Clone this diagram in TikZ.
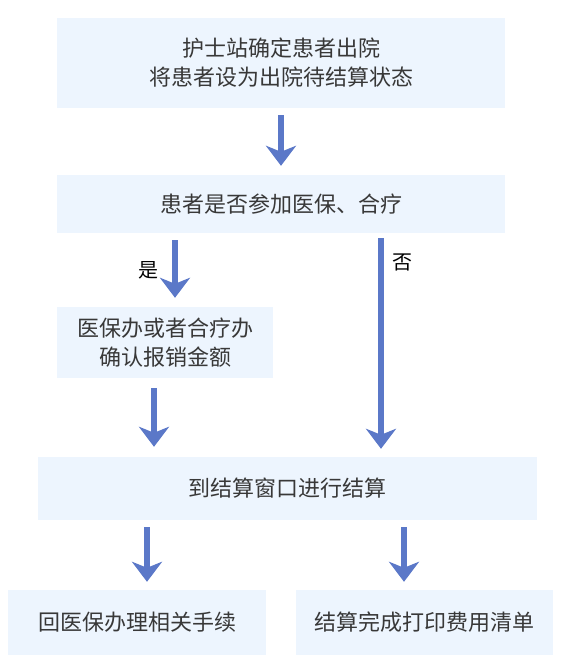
\documentclass[tikz,border=0pt]{standalone}
\usepackage{fontspec}
\newfontfamily\cjk{Noto Sans CJK SC}
\usepackage{tikz}
\usetikzlibrary{positioning,arrows.meta,calc}
\definecolor{boxfill}{HTML}{EDF5FE}
\definecolor{flowblue}{HTML}{5B78C8}
\definecolor{txtgray}{HTML}{383838}

\begin{document}
\begin{tikzpicture}[x=1pt, y=-1pt, >={Stealth[length=20pt,width=30pt,inset=6pt]},
	every box/.style={rectangle, fill=boxfill, inner sep=0pt, align=center, text=txtgray,
		font=\cjk\fontsize{22}{29}\selectfont},
	flow/.style={->, flowblue, line width=6pt, shorten <=7pt, shorten >=9pt},
	tag/.style={font=\cjk\fontsize{20}{24}\selectfont, text=black}]

		\useasboundingbox (0,0) rectangle (561,672);

		\node [every box/.try, minimum width=448pt, minimum height=90pt] (confirm) at (281,63)
		{护士站确定患者出院\\将患者设为出院待结算状态};
		\node [every box/.try, minimum width=448pt, minimum height=58pt] (insured) at (281,204)
		{患者是否参加医保、合疗};
		\node [every box/.try, minimum width=216pt, minimum height=71pt] (refund) at (165,342.5)
		{医保办或者合疗办\\确认报销金额};
		\node [every box/.try, minimum width=499pt, minimum height=63pt] (window) at (287.5,488.5)
		{到结算窗口进行结算};
		\node [every box/.try, minimum width=258pt, minimum height=65pt] (back) at (137,622.5)
		{回医保办理相关手续};
		\node [every box/.try, minimum width=257pt, minimum height=65pt] (print) at (424.5,622.5)
		{结算完成打印费用清单};

		\draw [flow] (confirm) -- (insured);

		\draw [flow] ([xshift=10pt]refund.north |- insured.south) -- ([xshift=10pt]refund.north)
		node [tag, midway, left=10pt] {是};
		\draw [flow, shorten <=5pt, shorten >=8pt] ([xshift=93.5pt]window.north |- insured.south) -- ([xshift=93.5pt]window.north)
		node [tag, pos=0.13, right=5pt] {否};

		\draw [flow, shorten <=10pt, shorten >=10pt] ([xshift=-11pt]refund.south) -- ([xshift=-11pt]refund.south |- window.north);

		\foreach \n/\s in {back/10, print/-20.5}
		\draw [flow, shorten >=8pt] ([xshift=\s pt]\n.north |- window.south) -- ([xshift=\s pt]\n.north);

\end{tikzpicture}
\end{document}
